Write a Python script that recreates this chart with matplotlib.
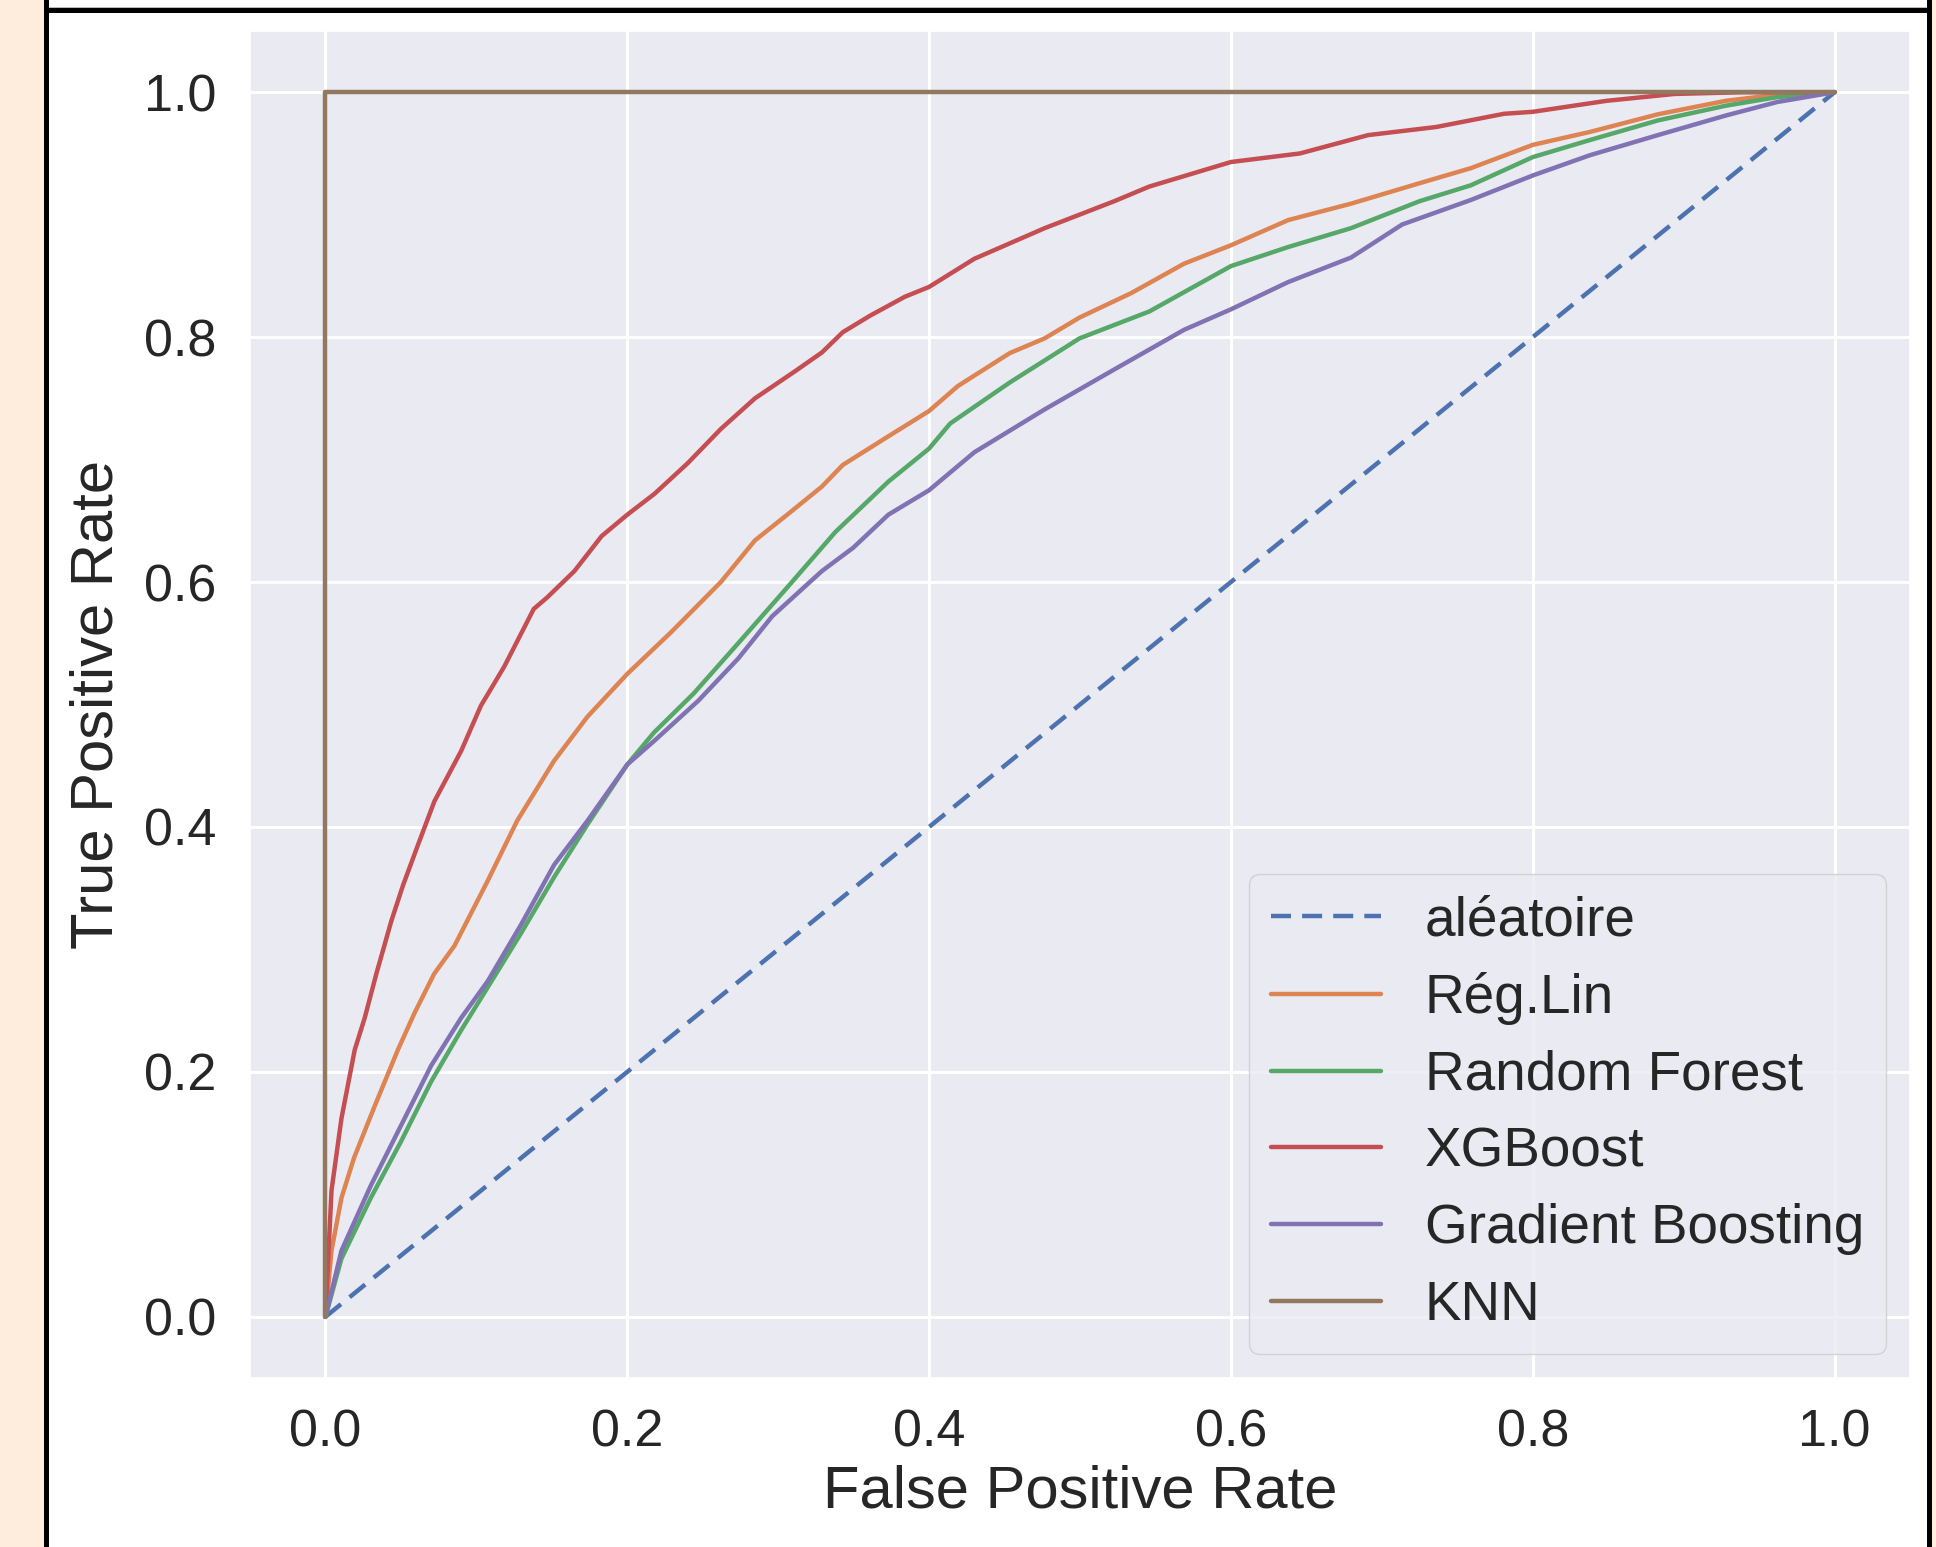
import matplotlib
matplotlib.use('Agg')
from matplotlib import pyplot as plt
from matplotlib.patches import Rectangle
import seaborn as sns

# ROC points per model (false positive rate, true positive rate)
fpr_lin = [0, 0.004, 0.0106, 0.019, 0.0326, 0.048, 0.059, 0.072, 0.0855, 0.1075,
           0.127, 0.1515, 0.1736, 0.2, 0.229, 0.262, 0.2846, 0.307, 0.329, 0.3428,
           0.373, 0.4, 0.419, 0.4535, 0.4766, 0.4997, 0.534, 0.569, 0.6, 0.638,
           0.6796, 0.725, 0.759, 0.8, 0.838, 0.883, 0.928, 0.962, 1.0]
tpr_lin = [0, 0.054, 0.097, 0.13, 0.172, 0.218, 0.248, 0.280, 0.303, 0.356,
           0.405, 0.454, 0.49, 0.525, 0.559, 0.600, 0.634, 0.656, 0.678, 0.6956,
           0.719, 0.7397, 0.76, 0.787, 0.799, 0.816, 0.836, 0.860, 0.875, 0.8956,
           0.909, 0.9257, 0.938, 0.957, 0.9676, 0.982, 0.993, 0.998, 1.0]

fpr_rf = [0, 0.0106, 0.030, 0.050, 0.070, 0.0899, 0.105, 0.1295, 0.1515, 0.1736,
          0.2, 0.2176, 0.244, 0.2735, 0.307, 0.338, 0.373, 0.4, 0.414, 0.4535,
          0.4997, 0.546, 0.6, 0.638, 0.6796, 0.725, 0.759, 0.8, 0.838, 0.883,
          0.928, 0.962, 1.0]
tpr_rf = [0, 0.0475, 0.097, 0.143, 0.192, 0.234, 0.264, 0.313, 0.359, 0.402,
          0.451, 0.477, 0.509, 0.55, 0.597, 0.641, 0.682, 0.709, 0.7295, 0.763,
          0.799, 0.821, 0.858, 0.8736, 0.889, 0.911, 0.924, 0.947, 0.961, 0.977,
          0.989, 0.996, 1.0]

fpr_xgb = [0, 0.004, 0.0106, 0.0194, 0.026, 0.0337, 0.0436, 0.0513, 0.0612, 0.0722,
           0.0899, 0.103, 0.1185, 0.138, 0.147, 0.165, 0.183, 0.2, 0.218, 0.240,
           0.262, 0.2846, 0.311, 0.329, 0.3428, 0.361, 0.384, 0.4, 0.430, 0.4766,
           0.5227, 0.546, 0.6, 0.6457, 0.691, 0.736, 0.781, 0.8, 0.849, 0.894,
           0.939, 1.0]
tpr_xgb = [0, 0.103, 0.162, 0.218, 0.244, 0.280, 0.323, 0.352, 0.385, 0.421,
           0.462, 0.499, 0.531, 0.578, 0.5875, 0.609, 0.6375, 0.655, 0.672, 0.697,
           0.725, 0.75, 0.772, 0.7875, 0.804, 0.8176, 0.833, 0.841, 0.864, 0.889,
           0.911, 0.923, 0.943, 0.95, 0.965, 0.9716, 0.9824, 0.984, 0.993, 0.9986,
           1.0, 1.0]

fpr_gb = [0, 0.0106, 0.030, 0.050, 0.070, 0.0899, 0.1075, 0.1295, 0.1515, 0.1736,
          0.2, 0.2176, 0.247, 0.2735, 0.296, 0.329, 0.3497, 0.373, 0.4, 0.430,
          0.4766, 0.5227, 0.569, 0.6, 0.638, 0.6796, 0.7135, 0.759, 0.8, 0.838,
          0.883, 0.928, 0.962, 1.0]
tpr_gb = [0, 0.054, 0.107, 0.156, 0.205, 0.244, 0.274, 0.320, 0.369, 0.405,
          0.451, 0.470, 0.503, 0.5375, 0.572, 0.609, 0.628, 0.655, 0.675, 0.706,
          0.741, 0.7736, 0.806, 0.8227, 0.845, 0.865, 0.892, 0.912, 0.932, 0.9486,
          0.965, 0.981, 0.992, 1.0]

fpr_knn = [0, 0, 1.0]
tpr_knn = [0, 1.0, 1.0]

models = ['Rég.Lin', 'Random Forest', 'XGBoost', 'Gradient Boosting', 'KNN']
curves = [(fpr_lin, tpr_lin), (fpr_rf, tpr_rf), (fpr_xgb, tpr_xgb),
          (fpr_gb, tpr_gb), (fpr_knn, tpr_knn)]

sns.set_theme(style='darkgrid')
plt.rcParams['font.family'] = ['Liberation Sans', 'DejaVu Sans']
pal = sns.color_palette('deep')

fig = plt.figure(figsize=(19.36, 15.47), dpi=100, facecolor='white')
W, H = 1936, 1547

# page frame around the chart
beige = '#FEEDDC'
fig.add_artist(Rectangle((0, 0), 44 / W, 1, transform=fig.transFigure,
                         color=beige, lw=0))
fig.add_artist(Rectangle((1932 / W, 0), 4 / W, 1, transform=fig.transFigure,
                         color=beige, lw=0))
fig.add_artist(Rectangle((44 / W, 0), 5 / W, 1, transform=fig.transFigure,
                         color='black', lw=0))
fig.add_artist(Rectangle((1927 / W, 0), 5 / W, 1, transform=fig.transFigure,
                         color='black', lw=0))
fig.add_artist(Rectangle((44 / W, 1 - 13 / H), 1888 / W, 5 / H,
                         transform=fig.transFigure, color='black', lw=0))
fig.add_artist(Rectangle((49 / W, 1 - 8 / H), 1878 / W, 1.2 / H,
                         transform=fig.transFigure, color='#BBBBBB', lw=0))

ax = fig.add_axes([250 / W, 1 - 1378 / H, 1660 / W, 1347 / H])
ax.plot([0, 1], [0, 1], linestyle='--', dashes=(4.5, 2.5), color=pal[0],
        lw=3.2, label='aléatoire')
for i, (name, (fpr, tpr)) in enumerate(zip(models, curves)):
    ax.plot(fpr, tpr, color=pal[i + 1], lw=3.2, label=name)

ax.set_xlim(-0.05, 1.05)
ax.set_ylim(-0.05, 1.05)
ax.grid(color='white', lw=2.2)
ax.tick_params(axis='both', labelsize=37.5, colors='.15')
ax.tick_params(axis='y', pad=18)
ax.tick_params(axis='x', pad=16)
ax.set_xlabel('False Positive Rate', fontsize=43, color='.15', labelpad=5)
ax.set_ylabel('True Positive Rate', fontsize=43, color='.15', labelpad=14)

leg = ax.legend(loc='lower right', fontsize=39.5, handlelength=2.0,
                handletextpad=0.8, labelspacing=0.45, borderaxespad=0.44,
                framealpha=0.8)

fig.savefig('out.png', dpi=100, facecolor='white')
